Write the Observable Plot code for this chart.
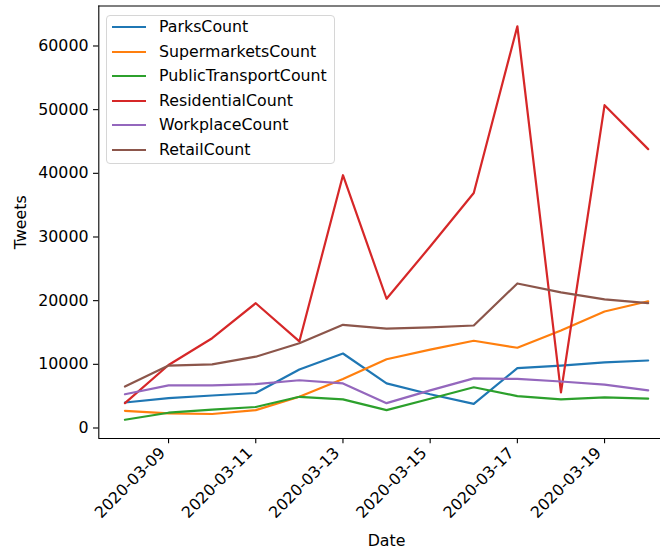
<!DOCTYPE html>
<html>
<head>
<meta charset="utf-8">
<script src="https://cdn.jsdelivr.net/npm/d3@7"></script>
<script src="https://cdn.jsdelivr.net/npm/@observablehq/plot@0.6"></script>
<style>
  html, body { margin: 0; padding: 0; background: white; }
  #wrap { position: relative; width: 660px; height: 550px; overflow: hidden; font-family: "DejaVu Sans", sans-serif; }
  #legend { position: absolute; left: 106px; top: 15px; width: 227px; height: 147px;
            border: 1px solid #d6d6d6; border-radius: 4px; background: rgba(255,255,255,0.8); }
  .lrow { position: absolute; left: 0; height: 20px; font-size: 15.8px; line-height: 20px; color: black; white-space: nowrap; }
  .lsw { position: absolute; left: 5px; top: 9px; width: 34px; height: 2.2px; }
  .ltx { position: absolute; left: 52px; top: 0; }
</style>
</head>
<body>
<div id="wrap"><div id="legend"></div></div>
<script>
const dates = ["2020-03-08","2020-03-09","2020-03-10","2020-03-11","2020-03-12","2020-03-13","2020-03-14",
               "2020-03-15","2020-03-16","2020-03-17","2020-03-18","2020-03-19","2020-03-20"];
const parksCount           = [4000, 4700, 5100, 5500, 9200, 11700, 7000, 5300, 3800, 9400, 9800, 10300, 10600];
const supermarketsCount    = [2700, 2300, 2200, 2800, 4900, 7700, 10800, 12300, 13700, 12600, 15300, 18300, 19900];
const publicTransportCount = [1300, 2400, 2900, 3300, 4900, 4500, 2800, 4600, 6400, 5000, 4500, 4800, 4600];
const residentialCount     = [3900, 9900, 14100, 19600, 13600, 39700, 20300, 28500, 36900, 63100, 5600, 50700, 43800];
const workplaceCount       = [5300, 6700, 6700, 6900, 7500, 7000, 3900, 5900, 7800, 7700, 7300, 6800, 5900];
const retailCount          = [6500, 9800, 10000, 11200, 13300, 16200, 15600, 15800, 16100, 22700, 21300, 20200, 19600];

const seriesNames = ["ParksCount","SupermarketsCount","PublicTransportCount","ResidentialCount","WorkplaceCount","RetailCount"];
const seriesValues = [parksCount, supermarketsCount, publicTransportCount, residentialCount, workplaceCount, retailCount];
const colors = ["#1f77b4","#ff7f0e","#2ca02c","#d62728","#9467bd","#8c564b"];

const xTickLabels = ["2020-03-09","2020-03-11","2020-03-13","2020-03-15","2020-03-17","2020-03-19"];
const yTicks = [0, 10000, 20000, 30000, 40000, 50000, 60000];
const xLabel = "Date";
const yLabel = "Tweets";

const rows = seriesNames.flatMap((name, i) =>
  dates.map((d, j) => ({date: new Date(d), value: seriesValues[i][j], series: name})));

const DAY = 864e5;
const x0 = new Date(dates[0]).getTime();
const xDomain = [new Date(x0 - 0.6 * DAY), new Date(x0 + 12.283 * DAY)];
const yDomain = [-1650, 66280];
const xMid = new Date(x0 + 6 * DAY);

const plot = Plot.plot({
  width: 660,
  height: 550,
  marginLeft: 98.3,
  marginRight: 0,
  marginTop: 5.5,
  marginBottom: 112,
  style: {fontFamily: "DejaVu Sans", fontSize: "15.8px", color: "black", background: "transparent", overflow: "visible"},
  x: {type: "utc", domain: xDomain},
  y: {domain: yDomain},
  color: {domain: seriesNames, range: colors},
  marks: [
    Plot.line(rows, {x: "date", y: "value", stroke: "series", strokeWidth: 2.2, strokeLinejoin: "round"}),
    Plot.ruleY([yDomain[0]], {stroke: "black", strokeWidth: 1.1}),
    Plot.ruleY([yDomain[1]], {stroke: "black", strokeWidth: 1.1}),
    Plot.ruleX([xDomain[0]], {stroke: "black", strokeWidth: 1.1}),
    Plot.axisY({ticks: yTicks, tickSize: 5.3, tickPadding: 5, tickFormat: d => String(d), label: null, strokeWidth: 1.1, fontSize: 15.8}),
    Plot.axisX({ticks: xTickLabels.map(d => new Date(d)), tickSize: 5.3, tickFormat: () => "", label: null, strokeWidth: 1.1}),
    Plot.text(xTickLabels, {x: d => new Date(d), text: d => d, frameAnchor: "bottom", rotate: -45,
      textAnchor: "end", lineAnchor: "bottom", dx: -2.5, dy: 15.5, fill: "black", fontSize: 15.8}),
    Plot.text([yLabel], {frameAnchor: "left", rotate: -90, textAnchor: "middle", lineAnchor: "bottom", dx: -72.8, fill: "black", fontSize: 15.8}),
    Plot.text([xLabel], {x: () => xMid, frameAnchor: "bottom", textAnchor: "middle", lineAnchor: "bottom", dy: 107, fill: "black", fontSize: 15.8})
  ]
});
plot.style.position = "absolute";
plot.style.left = "0px";
plot.style.top = "0px";
const wrap = document.getElementById("wrap");
wrap.insertBefore(plot, wrap.firstChild);

const legend = document.getElementById("legend");
seriesNames.forEach((name, i) => {
  const row = document.createElement("div");
  row.className = "lrow";
  row.style.top = (27.3 - 16 - 10 + 24.5 * i) + "px";
  const sw = document.createElement("div");
  sw.className = "lsw";
  sw.style.background = colors[i];
  const tx = document.createElement("div");
  tx.className = "ltx";
  tx.textContent = name;
  row.appendChild(sw);
  row.appendChild(tx);
  legend.appendChild(row);
});
</script>
</body>
</html>
